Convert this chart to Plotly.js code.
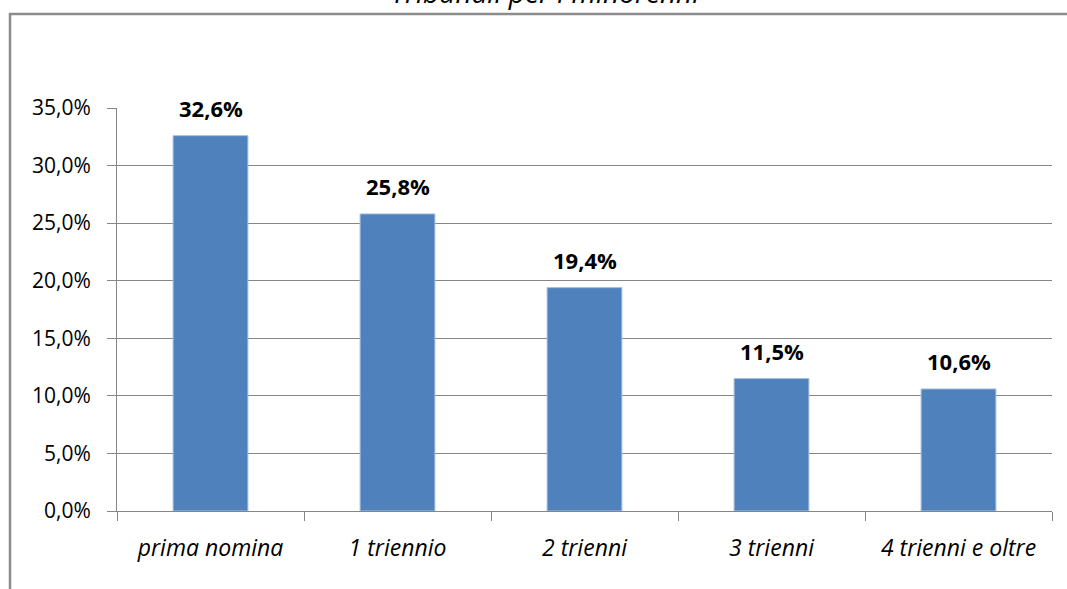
<!DOCTYPE html>
<html>
<head>
<meta charset="utf-8">
<script src="https://cdn.plot.ly/plotly-3.0.1.min.js"></script>
<style>html,body{margin:0;padding:0;background:#fff;}#chart{width:1067px;height:589px;}</style>
</head>
<body>
<div id="chart"></div>
<script>
const categories = ["prima nomina", "1 triennio", "2 trienni", "3 trienni", "4 trienni e oltre"];
const values = [32.6, 25.8, 19.4, 11.5, 10.6];
const labels = ["32,6%", "25,8%", "19,4%", "11,5%", "10,6%"];
const titleText = "Tribunali per i minorenni";

const FONT = "Open Sans, Noto Sans, sans-serif";
const W = 1067, H = 589;
const L = 117, R = 15, T = 108, B = 78;
const pw = W - L - R, ph = H - T - B;
const px2x = p => (p - L) / pw;
const py2y = p => (H - B - p) / ph;

const trace = {
  type: "bar",
  x: categories,
  y: values,
  marker: { color: "#4F81BD", line: { color: "#A7BFDE", width: 1 } },
  hoverinfo: "none"
};

const annotations = categories.map((c, i) => ({
  x: c, y: values[i], xref: "x", yref: "y",
  text: "<b>" + labels[i] + "</b>",
  showarrow: false, yanchor: "bottom", yshift: 11,
  font: { family: FONT, size: 22, color: "#000" }
}));
annotations.push({
  xref: "paper", yref: "paper",
  x: px2x(545), y: py2y(13), xanchor: "center", yanchor: "bottom",
  text: "<i>" + titleText + "</i>", showarrow: false,
  font: { family: FONT, size: 28, color: "#000" }
});

const layout = {
  width: W, height: H,
  margin: { l: L, r: R, t: T, b: B, pad: 0 },
  paper_bgcolor: "#fff", plot_bgcolor: "#fff",
  separators: ",.",
  showlegend: false,
  bargap: 0.6,
  font: { family: FONT, size: 22, color: "#000" },
  xaxis: {
    type: "category",
    showgrid: false,
    showline: true, linecolor: "#868686", linewidth: 1,
    ticks: "outside", ticklen: 9, tickcolor: "#868686", tickwidth: 1,
    tickson: "boundaries",
    ticklabelstandoff: 16,
    tickfont: { family: FONT, size: 23, color: "#000", style: "italic" },
    fixedrange: true
  },
  yaxis: {
    range: [0, 35], dtick: 5, tick0: 0,
    tickformat: ".1f", ticksuffix: "%",
    showgrid: true, gridcolor: "#868686", gridwidth: 1,
    showline: true, linecolor: "#868686", linewidth: 1,
    ticks: "outside", ticklen: 9, tickcolor: "#868686", tickwidth: 1,
    ticklabelstandoff: 12,
    zeroline: false,
    tickfont: { family: FONT, size: 21, color: "#000" },
    fixedrange: true
  },
  shapes: [{
    type: "rect", xref: "paper", yref: "paper",
    x0: px2x(10), x1: px2x(1100), y0: py2y(620), y1: py2y(14),
    line: { color: "#8C8C8C", width: 2.5 }, fillcolor: "rgba(0,0,0,0)"
  }],
  annotations: annotations
};

Plotly.newPlot("chart", [trace], layout, { displayModeBar: false, staticPlot: true });
</script>
</body>
</html>
